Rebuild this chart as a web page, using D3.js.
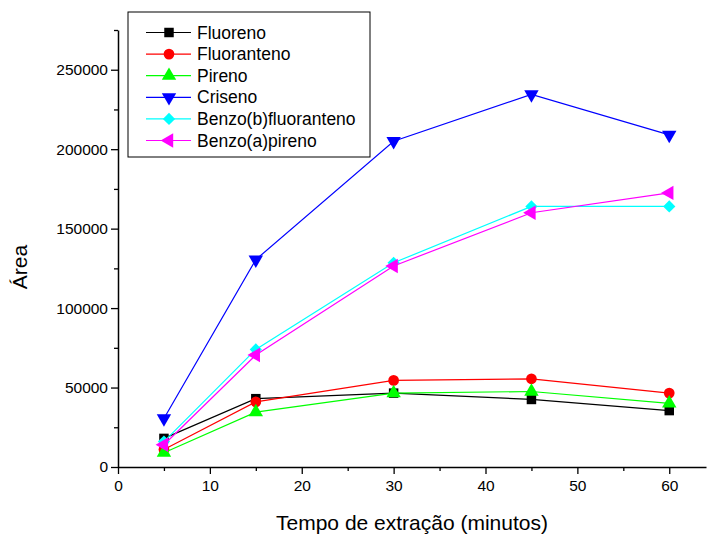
<!DOCTYPE html>
<html>
<head>
<meta charset="utf-8">
<script src="https://cdn.jsdelivr.net/npm/d3@7"></script>
<style>
  body { margin: 0; background: #fff; }
  text { font-family: "Liberation Sans", Arial, sans-serif; }
</style>
</head>
<body>
<div class="chart"></div>
<script>
// data
var tempos = [5, 15, 30, 45, 60];
var seriesNames = ["Fluoreno", "Fluoranteno", "Pireno", "Criseno", "Benzo(b)fluoranteno", "Benzo(a)pireno"];
var fluoreno = [18000, 43000, 46500, 42500, 35500];
var fluoranteno = [11000, 41000, 54500, 55500, 46500];
var pireno = [9000, 34500, 46500, 47500, 40000];
var criseno = [30500, 130500, 205000, 234500, 209000];
var benzoB = [16000, 74000, 128500, 164000, 164000];
var benzoA = [14000, 70500, 126500, 160000, 172500];
var yTicks = [0, 50000, 100000, 150000, 200000, 250000];
var xTicks = [0, 10, 20, 30, 40, 50, 60];

var colors = ["#000000", "#ff0000", "#00ff00", "#0000ff", "#00ffff", "#ff00ff"];
var allValues = [fluoreno, fluoranteno, pireno, criseno, benzoB, benzoA];

var svgWidth = 709;
var svgHeight = 537;
var margin = { top: 30, right: 3, bottom: 70, left: 118 };
var width = svgWidth - margin.left - margin.right;
var height = svgHeight - margin.top - margin.bottom;

var svg = d3.select(".chart")
  .append("svg")
  .attr("width", svgWidth)
  .attr("height", svgHeight);

var chartGroup = svg.append("g")
  .attr("transform", `translate(${margin.left}, ${margin.top})`);

var xScale = d3.scaleLinear().domain([0, 64]).range([0, width]);
var yScale = d3.scaleLinear().domain([0, 275000]).range([height, 0]);

// minor ticks first
chartGroup.append("g")
  .attr("transform", `translate(0, ${height})`)
  .call(d3.axisBottom(xScale).tickValues([5, 15, 25, 35, 45, 55]).tickSize(4).tickSizeOuter(0).tickFormat(""))
  .call(g => g.select(".domain").remove());
chartGroup.append("g")
  .call(d3.axisLeft(yScale).tickValues([25000, 75000, 125000, 175000, 225000, 275000]).tickSize(4).tickSizeOuter(0).tickFormat(""))
  .call(g => g.select(".domain").remove());

var xAxis = chartGroup.append("g")
  .attr("transform", `translate(0, ${height})`)
  .call(d3.axisBottom(xScale).tickValues(xTicks).tickSize(7).tickSizeOuter(0).tickPadding(6));
var yAxis = chartGroup.append("g")
  .call(d3.axisLeft(yScale).tickValues(yTicks).tickSize(7).tickSizeOuter(0).tickPadding(3).tickFormat(d3.format("d")));

svg.selectAll(".tick line").attr("stroke", "#000").attr("stroke-width", 1.3);
svg.selectAll(".domain").attr("stroke", "#000").attr("stroke-width", 1.5);
svg.selectAll(".tick text").attr("font-size", 15.5).attr("fill", "#000")
  .style("font-family", "Liberation Sans, Arial, sans-serif");

// symbols
var tri = d3.symbol().type(d3.symbolTriangle).size(90);
var symbols = [
  { path: d3.symbol().type(d3.symbolSquare).size(90)(), rot: 0 },
  { path: d3.symbol().type(d3.symbolCircle).size(90)(), rot: 0 },
  { path: tri(), rot: 0 },
  { path: tri(), rot: 180 },
  { path: d3.symbol().type(d3.symbolSquare).size(75)(), rot: 45 },
  { path: tri(), rot: -90 }
];

var line = d3.line()
  .x((d, i) => xScale(tempos[i]))
  .y(d => yScale(d));

allValues.forEach(function(vals, s) {
  var g = chartGroup.append("g");
  g.append("path")
    .datum(vals)
    .attr("d", line)
    .attr("fill", "none")
    .attr("stroke", colors[s])
    .attr("stroke-width", 1.2);
  g.selectAll("path.mark")
    .data(vals)
    .enter()
    .append("path")
    .attr("class", "mark")
    .attr("d", symbols[s].path)
    .attr("transform", (d, i) => `translate(${xScale(tempos[i])}, ${yScale(d)}) rotate(${symbols[s].rot})`)
    .attr("fill", colors[s]);
});

// legend
var legend = svg.append("g").attr("transform", "translate(128, 12)");
legend.append("rect")
  .attr("width", 242)
  .attr("height", 145)
  .attr("fill", "#fff")
  .attr("stroke", "#000")
  .attr("stroke-width", 1);

seriesNames.forEach(function(name, s) {
  var y = 20.5 + s * 21.6;
  legend.append("line")
    .attr("x1", 18).attr("x2", 63)
    .attr("y1", y).attr("y2", y)
    .attr("stroke", colors[s]).attr("stroke-width", 1.2);
  legend.append("path")
    .attr("d", symbols[s].path)
    .attr("transform", `translate(41, ${y}) rotate(${symbols[s].rot})`)
    .attr("fill", colors[s]);
  legend.append("text")
    .attr("x", 69)
    .attr("y", y + 6)
    .attr("font-size", 17.5)
    .text(name);
});

// axis labels
svg.append("text")
  .attr("transform", "translate(27, 267) rotate(-90)")
  .attr("text-anchor", "middle")
  .attr("font-size", 21)
  .text("Área");

svg.append("text")
  .attr("x", 412)
  .attr("y", 530)
  .attr("text-anchor", "middle")
  .attr("font-size", 21)
  .text("Tempo de extração (minutos)");
</script>
</body>
</html>
